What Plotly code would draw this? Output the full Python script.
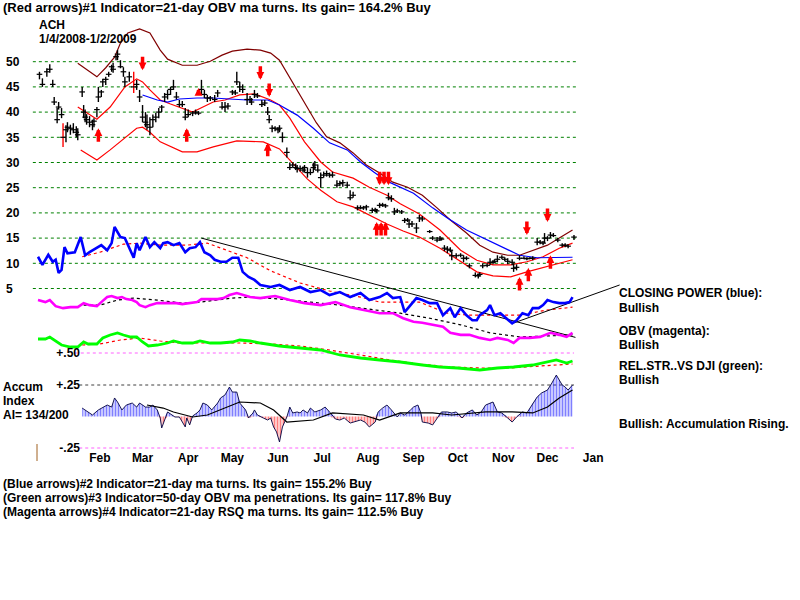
import pandas as pd
import plotly.graph_objects as go

W, H = 800, 600
FONT = "Liberation Sans"

# ---------------- text ----------------
TITLE = "(Red arrows)#1 Indicator=21-day OBV ma turns. Its gain= 164.2% Buy"
TICKER = "ACH"
PERIOD = "1/4/2008-1/2/2009"
FOOTER = ["(Blue arrows)#2 Indicator=21-day ma turns. Its gain= 155.2% Buy",
          "(Green arrows)#3 Indicator=50-day OBV ma penetrations. Its gain= 117.8% Buy",
          "(Magenta arrows)#4 Indicator=21-day RSQ ma turns. Its gain= 112.5% Buy"]
RIGHT_LABELS = ["CLOSING POWER (blue):", "Bullish", "OBV (magenta):", "Bullish",
                "REL.STR..VS DJI (green):", "Bullish", "Bullish: Accumulation Rising."]
ACCUM_LABELS = ["Accum", "Index", "AI= 134/200"]

PRICE_TICKS = [5, 10, 15, 20, 25, 30, 35, 40, 45, 50]
MONTH_LABELS = ["Feb", "Mar", "Apr", "May", "Jun", "Jul", "Aug", "Sep", "Oct", "Nov", "Dec", "Jan"]
MONTH_TICK_DATES = ["2008-02-15", "2008-03-15", "2008-04-15", "2008-05-15", "2008-06-15",
                    "2008-07-15", "2008-08-15", "2008-09-15", "2008-10-15", "2008-11-15",
                    "2008-12-15", "2009-01-15"]
ACCUM_TICKS = [0.25, -0.25]
ACCUM_TICKTEXT = ["+.25", "-.25"]
RS_TICKS = [0.5]
RS_TICKTEXT = ["+.50"]

# ---------------- daily price bars (day of year 2008) ----------------
BAR_DOY = [5, 7, 10, 12, 14, 15, 17, 18, 20, 21, 23, 24, 26, 28, 30, 31,
           34, 35, 36, 37, 39, 41, 42, 44, 45, 47, 48, 50, 52, 54, 55, 57, 58, 60, 62, 63,
           66, 69, 71, 73, 75, 77, 78, 80, 82, 84, 86, 88, 90,
           92, 94, 96, 98, 100, 102, 104, 106, 109, 111, 113, 115, 117, 119, 121,
           124, 126, 129, 131, 133, 136, 138, 139, 141, 143, 146, 148, 149, 151, 153,
           156, 158, 160, 161, 163, 165, 167, 168, 170, 173, 175, 177, 179, 180, 182,
           184, 185, 187, 189, 191, 192, 194, 196, 198, 200, 202, 204, 207, 209, 211, 214,
           216, 218, 221, 223, 225, 227, 231, 233, 234, 236, 238, 240, 242, 244,
           246, 248, 251, 253, 255, 256, 258, 261, 263, 265, 270, 272,
           275, 277, 278, 280, 282, 284, 285, 288, 291, 293, 295, 297, 301, 303, 304,
           306, 309, 311, 313, 314, 316, 319, 321, 323, 326, 327, 329, 331, 334, 336,
           338, 340, 343, 345, 347, 348, 350, 352, 354, 357, 360, 362, 364, 368]
BAR_LOW = [46.5, 45.0, 47.0, 47.8, 45.0, 41.4, 37.8, 40.5, 38.8, 33.1, 34.0, 36.0, 35.5, 35.8, 35.0, 34.4,
           43.0, 38.8, 38.0, 37.5, 37.0, 36.4, 37.0, 39.0, 42.0, 43.0, 45.0, 45.4, 47.0, 48.0, 47.8, 50.3, 50.3, 48.7, 47.0, 45.0,
           46.0, 43.8, 44.4, 42.0, 38.0, 37.0, 36.5, 35.4, 37.0, 38.0, 38.8, 40.0, 42.0,
           42.5, 43.4, 44.4, 42.5, 41.0, 41.0, 38.4, 39.0, 39.2, 39.5, 39.4, 43.4, 42.8, 42.0, 42.2,
           42.0, 43.0, 40.5, 40.0, 40.5, 43.4, 43.4, 45.4, 44.0, 43.8, 41.4, 41.8, 41.4, 42.8, 42.8,
           41.0, 41.2, 39.4, 37.8, 36.0, 36.2, 35.8, 36.0, 34.0, 31.0, 28.5, 29.0, 28.5, 28.0, 28.2,
           28.0, 28.0, 27.0, 27.5, 28.0, 28.5, 28.0, 25.0, 27.0, 27.2, 27.0, 27.0, 25.0, 25.3, 25.2, 25.0,
           22.5, 23.0, 20.5, 20.7, 20.6, 20.5, 20.0, 20.2, 20.0, 21.0, 21.2, 21.0, 22.5, 22.2,
           19.6, 20.0, 19.8, 18.0, 18.2, 17.0, 17.2, 16.0, 18.2, 18.3, 16.0, 14.6,
           14.2, 14.4, 14.5, 12.4, 12.0, 12.2, 10.6, 11.0, 11.2, 10.2, 10.6, 9.0, 7.2, 7.0, 7.4,
           9.0, 9.2, 9.6, 9.8, 10.0, 10.2, 10.8, 10.4, 9.8, 9.6, 8.3, 8.6, 10.6, 10.8, 10.6,
           10.8, 10.6, 13.6, 13.8, 13.6, 14.0, 14.4, 15.0, 15.2, 14.2, 13.2, 13.2, 13.0, 14.6]
BAR_HIGH = [48.0, 46.7, 48.7, 49.5, 46.4, 43.0, 40.8, 42.0, 40.8, 37.8, 37.4, 38.0, 37.5, 37.8, 37.2, 36.8,
            45.0, 41.4, 40.5, 39.6, 39.2, 38.5, 38.8, 41.0, 45.0, 44.4, 46.6, 47.0, 48.0, 49.4, 49.8, 51.3, 52.3, 50.3, 48.9, 47.0,
            48.0, 48.0, 46.4, 44.4, 41.4, 40.0, 39.5, 39.0, 39.5, 39.8, 40.8, 41.4, 43.8,
            44.4, 45.0, 46.4, 44.0, 42.4, 42.2, 40.8, 40.5, 40.2, 40.5, 40.2, 46.4, 44.4, 43.4, 43.2,
            43.4, 44.4, 42.0, 42.0, 41.8, 44.4, 44.4, 48.0, 46.0, 45.5, 43.8, 43.2, 42.8, 44.4, 43.8,
            42.4, 42.4, 41.0, 39.4, 37.4, 37.2, 37.0, 37.4, 36.0, 33.0, 30.0, 30.0, 29.8, 29.5, 29.4,
            29.2, 29.5, 29.0, 28.8, 30.0, 30.3, 29.6, 28.0, 28.2, 28.4, 28.0, 28.2, 26.5, 26.4, 26.6, 26.2,
            24.5, 24.2, 21.5, 21.5, 21.4, 21.6, 21.0, 21.0, 20.8, 22.0, 22.0, 21.8, 24.0, 23.5,
            21.0, 20.8, 20.6, 19.0, 19.0, 18.6, 18.4, 18.0, 19.6, 19.4, 16.6, 15.4,
            15.2, 15.4, 15.0, 13.6, 13.4, 13.2, 12.6, 12.0, 12.0, 11.6, 11.4, 10.0, 8.2, 8.0, 8.2,
            10.0, 10.0, 11.0, 10.6, 10.8, 11.6, 11.6, 11.2, 11.0, 10.8, 10.0, 9.8, 11.6, 11.4, 11.2,
            11.2, 11.4, 15.0, 14.6, 14.4, 16.0, 15.4, 16.2, 16.0, 15.0, 14.0, 14.0, 13.8, 15.6]
BAR_CLOSE = [47.5, 45.5, 48.0, 48.5, 45.5, 42.0, 38.5, 41.0, 39.5, 35.0, 36.5, 37.0, 36.8, 36.5, 36.0, 35.5,
             44.0, 40.0, 39.0, 38.5, 38.0, 37.5, 38.2, 40.5, 43.0, 44.0, 46.0, 46.5, 47.5, 49.0, 48.5, 51.0, 51.5, 49.0, 48.0, 46.0,
             47.0, 45.0, 45.5, 43.0, 39.0, 38.0, 37.5, 37.0, 38.5, 39.0, 40.0, 41.0, 43.0,
             43.5, 44.5, 45.0, 43.0, 41.5, 41.5, 39.0, 39.5, 39.8, 40.0, 39.8, 44.5, 43.5, 42.8, 42.8,
             42.5, 43.8, 41.0, 41.0, 41.2, 44.0, 43.8, 46.0, 45.0, 44.5, 42.5, 42.5, 42.0, 43.5, 43.2,
             41.5, 41.8, 40.0, 38.5, 36.8, 36.8, 36.5, 36.8, 35.0, 32.0, 29.0, 29.5, 29.0, 28.8, 28.8,
             28.5, 29.0, 28.0, 28.0, 29.0, 29.5, 28.5, 27.0, 27.5, 27.8, 27.5, 27.5, 25.5, 25.8, 26.0, 25.5,
             23.0, 23.5, 21.0, 21.0, 21.0, 21.2, 20.5, 20.6, 20.4, 21.5, 21.6, 21.4, 23.0, 22.8,
             20.2, 20.4, 20.2, 18.5, 18.6, 17.8, 17.8, 17.0, 19.0, 18.8, 16.3, 15.0,
             14.6, 15.0, 14.8, 13.0, 12.8, 12.6, 11.5, 11.5, 11.6, 11.0, 11.0, 9.5, 7.6, 7.5, 7.8,
             9.5, 9.6, 10.2, 10.2, 10.4, 10.8, 11.2, 10.8, 10.4, 10.2, 9.0, 9.2, 11.0, 11.0, 10.9,
             11.0, 11.0, 14.2, 14.2, 14.0, 15.0, 15.0, 15.6, 15.5, 14.6, 13.6, 13.6, 13.4, 15.2]
RED_BAR_DOY = [21, 69]

# ---------------- bands / moving averages ----------------
BROWN_DOY = [31, 38, 44, 50, 56, 60, 65, 73, 80, 87, 92, 102, 112, 121, 129, 136, 146, 155, 162, 168,
             177, 187, 193, 200, 209, 218, 227, 236, 245, 255, 265, 275, 284, 295, 304, 313, 323, 331,
             340, 350, 358, 367]
BROWN_VAL = [49.7, 48.3, 47.0, 48.8, 50.9, 53.7, 55.7, 56.5, 55.7, 52.3, 50.5, 49.3, 49.3, 50.1, 51.3,
             52.1, 52.5, 52.3, 51.7, 50.3, 45.8, 41.0, 37.9, 35.1, 33.9, 31.9, 29.5, 27.9, 26.1, 25.1,
             23.5, 21.0, 18.6, 16.0, 13.6, 12.2, 11.6, 11.6, 12.6, 13.6, 15.0, 16.6]
UPPER_DOY = [31, 38, 44, 53, 63, 71, 75, 80, 87, 94, 102, 109, 116, 123, 131, 141, 151, 162, 168, 175,
             185, 196, 204, 218, 229, 241, 250, 263, 277, 291, 302, 313, 325, 336, 347, 358, 367]
UPPER_VAL = [41.0, 39.8, 38.6, 41.0, 45.0, 46.6, 46.0, 44.4, 42.4, 41.6, 40.8, 40.0, 41.0, 42.0, 42.4,
             43.4, 43.6, 42.4, 41.4, 38.8, 34.1, 30.1, 28.1, 26.9, 25.1, 23.5, 21.8, 19.8, 16.6, 12.6,
             10.6, 9.7, 9.7, 10.3, 11.3, 13.0, 14.0]
LOWER_DOY = [33, 44, 53, 63, 71, 75, 80, 87, 94, 102, 112, 123, 139, 157, 168, 177, 187, 196, 207, 218,
             229, 241, 252, 263, 277, 289, 302, 313, 325, 336, 347, 358, 367]
LOWER_VAL = [32.5, 30.5, 32.5, 34.9, 36.8, 37.0, 36.0, 34.1, 33.1, 32.1, 32.1, 33.1, 34.3, 34.1, 32.7,
             29.9, 26.7, 24.5, 22.2, 21.2, 19.6, 17.8, 16.4, 15.2, 13.0, 10.7, 8.3, 7.5, 7.3, 8.3, 9.1,
             9.9, 10.7]
MA50_DOY = [75, 85, 92, 100, 112, 123, 134, 146, 160, 168, 180, 191, 202, 214, 223, 232, 241, 250, 259,
            272, 282, 295, 309, 323, 331, 343, 356, 367]
MA50_VAL = [43.4, 42.4, 42.0, 42.6, 42.8, 42.8, 42.6, 42.4, 42.4, 41.4, 39.4, 36.8, 33.9, 32.5, 30.1,
            28.1, 26.3, 25.1, 23.9, 21.0, 19.0, 16.6, 14.6, 12.6, 11.6, 11.1, 11.1, 11.2]

# ---------------- closing power (drawn on price scale) ----------------
CP_DOY = [4, 7, 11, 14, 16, 18, 20, 22, 24, 27, 29, 33, 36, 39, 44, 47, 51, 54, 56, 60, 63, 66, 69, 71,
          73, 77, 80, 83, 87, 89, 92, 96, 100, 104, 107, 111, 114, 117, 121, 124, 128, 132, 136, 140,
          143, 147, 151, 155, 162, 168, 175, 182, 189, 196, 202, 209, 216, 223, 229, 236, 241, 245,
          250, 253, 257, 261, 265, 270, 275, 279, 284, 287, 291, 295, 299, 302, 304, 309, 311, 314,
          318, 321, 326, 329, 333, 337, 340, 344, 347, 350, 354, 358, 362, 365, 367]
CP_VAL = [11.3, 9.7, 11.7, 10.3, 10.7, 8.1, 8.7, 13.2, 12.0, 12.2, 12.2, 15.2, 11.6, 12.2, 13.0, 13.6,
          12.6, 14.0, 17.2, 15.2, 15.0, 13.2, 11.1, 14.0, 12.6, 15.2, 13.2, 14.2, 13.0, 14.0, 14.2, 13.6,
          14.0, 12.2, 13.0, 13.2, 14.2, 12.2, 11.6, 10.7, 10.3, 10.3, 11.1, 11.1, 8.3, 7.3, 6.7, 5.7,
          5.3, 5.7, 4.7, 5.3, 4.3, 4.7, 3.7, 4.3, 3.3, 4.1, 2.7, 3.3, 4.1, 3.1, 3.3, 0.3, 1.7, 3.1,
          2.7, 2.1, 2.1, -0.3, 1.1, -0.7, 1.1, -0.3, -1.3, -1.3, -0.3, 0.7, 1.7, -0.3, 0.1, -0.7, -1.9,
          -1.3, 0.1, -0.3, 1.1, 1.1, 1.7, 2.7, 2.3, 2.1, 2.1, 2.3, 3.3]
CP_MA_DOY = [34, 46, 62, 73, 87, 105, 119, 132, 146, 162, 182, 202, 223, 236, 263, 282, 297, 315, 331,
             349, 367]
CP_MA_VAL = [11.3, 12.2, 13.8, 14.0, 13.6, 13.6, 14.0, 12.6, 11.1, 8.5, 6.1, 4.5, 3.3, 2.3, 2.3, 0.1,
             -0.3, -0.3, -0.3, 0.7, 1.3]
TREND1_DOY = [115, 369]
TREND1_VAL = [15.0, -4.7]
TREND2_DOY = [327, 399]
TREND2_VAL = [-1.85, 5.7]

# ---------------- OBV (drawn on price scale) ----------------
OBV_DOY = [4, 9, 12, 16, 21, 26, 31, 35, 39, 44, 47, 51, 54, 58, 61, 64, 68, 71, 73, 77, 80, 85, 92,
           98, 102, 107, 112, 115, 121, 126, 130, 134, 139, 143, 148, 155, 165, 175, 185, 196, 206,
           216, 226, 236, 245, 252, 259, 265, 272, 279, 284, 291, 297, 304, 311, 316, 323, 327, 331,
           338, 345, 352, 358, 363, 367]
OBV_VAL = [2.7, 2.3, 2.7, 1.5, 1.1, 1.3, 1.3, 2.1, 1.7, 1.5, 2.3, 3.3, 3.5, 3.1, 3.3, 2.9, 2.7, 2.3,
           1.7, 1.3, 1.7, 2.1, 2.1, 2.1, 1.9, 2.1, 2.3, 2.9, 2.9, 2.9, 3.1, 3.7, 4.1, 3.7, 3.3, 3.1,
           3.5, 2.7, 2.1, 1.7, 2.3, 1.3, 0.7, 0.1, 0.1, -0.9, -1.6, -1.8, -2.2, -2.6, -3.8, -4.2,
           -4.2, -4.8, -5.2, -4.8, -5.2, -5.8, -4.8, -4.8, -4.6, -3.8, -4.2, -4.6, -3.8]
OBV_MA_DOY = [35, 46, 58, 69, 85, 102, 114, 136, 148, 168, 189, 209, 229, 250, 270, 291, 311, 331,
              352, 367]
OBV_MA_VAL = [1.7, 1.7, 2.7, 3.1, 2.7, 2.1, 2.3, 3.1, 3.3, 2.9, 2.3, 1.7, 0.9, 0.1, -0.9, -2.2, -3.8,
              -4.6, -4.4, -4.2]

# ---------------- relative strength vs DJI ----------------
RS_DOY = [4, 9, 12, 16, 20, 26, 31, 35, 38, 44, 48, 53, 58, 62, 67, 71, 75, 79, 85, 92, 96, 102, 109,
          114, 121, 128, 136, 141, 148, 155, 168, 182, 196, 209, 223, 236, 250, 265, 277, 289, 304,
          316, 327, 340, 350, 356, 363, 367]
RS_VAL = [0.64, 0.64, 0.66, 0.62, 0.58, 0.56, 0.56, 0.61, 0.59, 0.59, 0.65, 0.68, 0.70, 0.68, 0.66,
          0.66, 0.61, 0.57, 0.58, 0.60, 0.62, 0.60, 0.60, 0.62, 0.60, 0.60, 0.61, 0.63, 0.62, 0.60,
          0.57, 0.55, 0.53, 0.48, 0.45, 0.43, 0.41, 0.38, 0.36, 0.35, 0.33, 0.35, 0.36, 0.38, 0.41,
          0.43, 0.40, 0.42]
RS_MA_DOY = [34, 46, 60, 73, 87, 100, 121, 141, 162, 182, 202, 223, 243, 263, 284, 304, 325, 345, 367]
RS_MA_VAL = [0.58, 0.59, 0.63, 0.65, 0.62, 0.60, 0.60, 0.60, 0.59, 0.57, 0.53, 0.48, 0.43, 0.39, 0.36,
             0.35, 0.35, 0.37, 0.39]

# ---------------- accumulation index ----------------
ACC_DOY = [34, 36, 38, 41, 45, 48, 51, 54, 56, 58, 61, 64, 68, 71, 73, 77, 80, 82, 85, 87, 88, 90, 92,
           95, 97, 100, 102, 104, 105, 107, 109, 112, 114, 116, 119, 122, 126, 128, 131, 134, 136, 139,
           141, 145, 147, 150, 151, 153, 157, 160, 162, 164, 166, 168, 170, 173, 175, 177, 180, 182,
           184, 187, 189, 192, 196, 199, 202, 206, 209, 212, 216, 219, 223, 226, 229, 233, 235, 238,
           241, 244, 248, 250, 253, 257, 259, 262, 264, 265, 269, 272, 275, 278, 282, 285, 288, 292,
           295, 299, 302, 305, 308, 311, 313, 316, 319, 323, 326, 329, 333, 336, 340, 343, 346, 350,
           353, 356, 360, 362, 364, 367]
ACC_VAL = [0.067, 0.052, 0.036, 0.012, 0.052, 0.075, 0.091, 0.075, 0.147, 0.115, 0.052, 0.091, 0.107,
           0.075, 0.107, 0.075, 0.075, 0.091, 0.052, -0.012, -0.091, -0.028, 0.036, 0.012, -0.004,
           -0.004, -0.044, -0.083, -0.012, -0.067, 0.004, 0.028, 0.052, 0.107, 0.091, 0.052, 0.107,
           0.147, 0.171, 0.234, 0.194, 0.194, 0.107, 0.052, -0.012, 0.028, 0.052, 0.012, -0.012,
           -0.028, -0.012, -0.083, -0.123, -0.202, -0.083, -0.004, 0.075, 0.028, 0.036, 0.028, 0.052,
           0.028, 0.067, 0.036, 0.052, 0.075, 0.036, -0.020, -0.028, -0.012, -0.052, -0.044, -0.028,
           -0.044, -0.083, -0.044, 0.036, 0.067, 0.091, 0.052, -0.004, 0.028, 0.012, 0.052, 0.075,
           0.091, 0.028, -0.044, -0.052, -0.067, -0.012, 0.036, 0.036, 0.028, 0.036, -0.012, 0.028,
           0.052, 0.012, 0.036, 0.091, 0.107, 0.115, 0.036, 0.028, -0.012, -0.044, -0.004, 0.036,
           0.028, 0.107, 0.155, 0.187, 0.210, 0.266, 0.329, 0.250, 0.234, 0.210, 0.250]
ACC_MA_DOY = [78, 89, 96, 109, 119, 136, 141, 155, 164, 173, 191, 204, 225, 236, 250, 272, 285, 308,
              326, 340, 350, 358, 367]
ACC_MA_VAL = [0.091, 0.067, 0.036, -0.004, 0.012, 0.091, 0.115, 0.107, 0.052, -0.044, -0.028, 0.028,
              0.012, -0.028, 0.028, 0.028, 0.012, 0.036, 0.036, 0.028, 0.075, 0.147, 0.210]

# ---------------- signal arrows (tip position) ----------------
DOWN_ARROW_DOY = [75, 155, 161, 236, 239, 242, 336, 350]
DOWN_ARROW_VAL = [48.3, 46.4, 43.0, 25.5, 25.5, 25.5, 15.6, 18.2]
UP_ARROW_DOY = [45, 105, 113, 160, 234, 237, 240, 331, 337, 352]
UP_ARROW_VAL = [36.8, 36.8, 44.8, 33.9, 18.2, 18.2, 18.2, 7.3, 9.1, 11.6]
UP_ARROW_LEN = [15, 15, 8, 15, 15, 15, 15, 15, 15, 15]

# ---------------- layout geometry (pixel calibration) ----------------
BASE = pd.Timestamp("2007-12-31")
PX_PER_DAY = 1.4725
FIRST_BAR_PX = 38.0
FIRST_BAR_DOY = 4


def day(d):
    return (BASE + pd.Timedelta(days=float(d))).strftime("%Y-%m-%d %H:%M:%S")


X_RANGE = [day(FIRST_BAR_DOY - FIRST_BAR_PX / PX_PER_DAY),
           day(FIRST_BAR_DOY + (W - FIRST_BAR_PX) / PX_PER_DAY)]
Y_RANGE = [(313.7 - H) / 5.04, 313.7 / 5.04]          # price scale
Y2_RANGE = [(416.5 - H) / 126.0, 416.5 / 126.0]       # accumulation scale
Y3_RANGE = [0.5 - (H - 353) / 100.0, 0.5 + 353 / 100.0]  # relative strength scale

fig = go.Figure()


def line(xs, ys, color, width=1, dash="solid", yaxis="y"):
    fig.add_trace(go.Scatter(x=[day(d) for d in xs], y=ys, mode="lines", yaxis=yaxis,
                             line=dict(color=color, width=width, dash=dash),
                             hoverinfo="skip"))


# bands
line(BROWN_DOY, BROWN_VAL, "#800000", 1.2)
line(UPPER_DOY, UPPER_VAL, "#ff0000", 1.2)
line(LOWER_DOY, LOWER_VAL, "#ff0000", 1.2)
line(MA50_DOY, MA50_VAL, "#0000ff", 1.2)

# price bars
bx, by = [], []
rx, ry = [], []
for d, lo, hi in zip(BAR_DOY, BAR_LOW, BAR_HIGH):
    tx, ty = (rx, ry) if d in RED_BAR_DOY else (bx, by)
    tx += [day(d), day(d), None]
    ty += [lo, hi, None]
fig.add_trace(go.Scatter(x=bx, y=by, mode="lines", line=dict(color="black", width=1.4), hoverinfo="skip"))
fig.add_trace(go.Scatter(x=rx, y=ry, mode="lines", line=dict(color="#ff0000", width=1.4), hoverinfo="skip"))
fig.add_trace(go.Scatter(x=[day(d) for d in BAR_DOY], y=BAR_CLOSE, mode="markers",
                         marker=dict(symbol="line-ew", size=4, line=dict(color="black", width=1.2)),
                         hoverinfo="skip"))

# closing power
line(CP_MA_DOY, CP_MA_VAL, "#ff0000", 1.2, "dot")
line(TREND1_DOY, TREND1_VAL, "black", 1)
line(TREND2_DOY, TREND2_VAL, "black", 1)
line(CP_DOY, CP_VAL, "#0000ff", 2.6)

# OBV
line(OBV_MA_DOY, OBV_MA_VAL, "black", 1.2, "dot")
line(OBV_DOY, OBV_VAL, "#ff00ff", 2.6)

# relative strength
line(RS_MA_DOY, RS_MA_VAL, "#ff0000", 1.2, "dot", "y3")
line(RS_DOY, RS_VAL, "#00ff00", 2.8, "solid", "y3")

# accumulation index
acc_x = [day(d) for d in ACC_DOY]
fig.add_trace(go.Scatter(x=acc_x, y=[max(v, 0) for v in ACC_VAL], yaxis="y2", mode="lines",
                         line=dict(width=0), fill="tozeroy", fillcolor="rgba(255,255,255,0)",
                         fillpattern=dict(shape="|", fgcolor="#0000ff", bgcolor="rgba(255,255,255,0)",
                                          size=3, solidity=0.62),
                         hoverinfo="skip"))
fig.add_trace(go.Scatter(x=acc_x, y=[min(v, 0) for v in ACC_VAL], yaxis="y2", mode="lines",
                         line=dict(width=0), fill="tozeroy", fillcolor="rgba(255,255,255,0)",
                         fillpattern=dict(shape="|", fgcolor="#ff0000", bgcolor="rgba(255,255,255,0)",
                                          size=3, solidity=0.62),
                         hoverinfo="skip"))
line(ACC_DOY, ACC_VAL, "#000040", 0.9, "solid", "y2")
line(ACC_MA_DOY, ACC_MA_VAL, "black", 1.2, "solid", "y2")

# ---------------- shapes: grid / reference lines ----------------
shapes = []
for v in PRICE_TICKS:
    shapes.append(dict(type="line", xref="x", yref="y", x0=day(0.5), x1=day(371), y0=v, y1=v,
                       layer="below", line=dict(color="#008000", width=1, dash="dot")))
shapes.append(dict(type="line", xref="x", yref="y3", x0=day(29), x1=day(368), y0=0.5, y1=0.5,
                   layer="below", line=dict(color="#ff60ff", width=1, dash="dot")))
shapes.append(dict(type="line", xref="x", yref="y2", x0=day(32), x1=day(368), y0=0.25, y1=0.25,
                   layer="below", line=dict(color="#404040", width=1, dash="dot")))
shapes.append(dict(type="line", xref="x", yref="y2", x0=day(32), x1=day(368), y0=-0.25, y1=-0.25,
                   layer="below", line=dict(color="#ff60ff", width=1, dash="dot")))
shapes.append(dict(type="line", xref="paper", yref="paper", x0=37 / W, x1=37 / W,
                   y0=1 - 444 / H, y1=1 - 461 / H, line=dict(color="#a06020", width=1)))

# ---------------- annotations ----------------
ann = []


def txt(s, px, py, size=12):
    ann.append(dict(text=s, x=px / W, y=1 - py / H, xref="paper", yref="paper",
                    xanchor="left", yanchor="middle", showarrow=False,
                    font=dict(family=FONT, size=size, color="black", weight="bold")))


txt(TITLE, 1, 8, 13)
txt(TICKER, 37, 25)
txt(PERIOD, 37, 39)
for s, py in zip(RIGHT_LABELS, [293, 308, 331, 345, 366, 380, 424]):
    txt(s, 617, py)
for s, py in zip(ACCUM_LABELS, [387, 401, 415]):
    txt(s, 1, py)
for s, py in zip(FOOTER, [484, 498, 512]):
    txt(s, 1, py)


def arrow(d, v, ay):
    ann.append(dict(x=day(d), y=v, xref="x", yref="y", ax=0, ay=ay, text="", showarrow=True,
                    arrowhead=2, arrowsize=0.45, arrowwidth=3.5, arrowcolor="#ff0000",
                    standoff=0, startstandoff=0))


for d, v in zip(DOWN_ARROW_DOY, DOWN_ARROW_VAL):
    arrow(d, v, -15)
for d, v, n in zip(UP_ARROW_DOY, UP_ARROW_VAL, UP_ARROW_LEN):
    arrow(d, v, n)

tickfont = dict(family=FONT, size=12, color="black", weight="bold")
fig.update_layout(
    width=W, height=H, margin=dict(l=0, r=0, t=0, b=0),
    paper_bgcolor="white", plot_bgcolor="white", showlegend=False,
    xaxis=dict(type="date", range=X_RANGE, domain=[0, 1], anchor="free", position=1 - 449 / H,
               tickvals=MONTH_TICK_DATES, ticktext=MONTH_LABELS, ticks="", showgrid=False,
               zeroline=False, showline=False, tickfont=tickfont),
    yaxis=dict(range=Y_RANGE, domain=[0, 1], tickvals=PRICE_TICKS,
               ticktext=[str(v) for v in PRICE_TICKS], ticklabelposition="inside", ticks="",
               ticklabelstandoff=3,
               showgrid=False, zeroline=False, showline=False, tickfont=tickfont),
    yaxis2=dict(range=Y2_RANGE, overlaying="y", anchor="free", position=80 / W, side="left",
                tickvals=ACCUM_TICKS, ticktext=ACCUM_TICKTEXT, ticks="", showgrid=False,
                zeroline=False, showline=False, tickfont=tickfont),
    yaxis3=dict(range=Y3_RANGE, overlaying="y", anchor="free", position=80 / W, side="left",
                tickvals=RS_TICKS, ticktext=RS_TICKTEXT, ticks="", showgrid=False,
                zeroline=False, showline=False, tickfont=tickfont),
    shapes=shapes, annotations=ann,
)

fig.write_html("out.html")
